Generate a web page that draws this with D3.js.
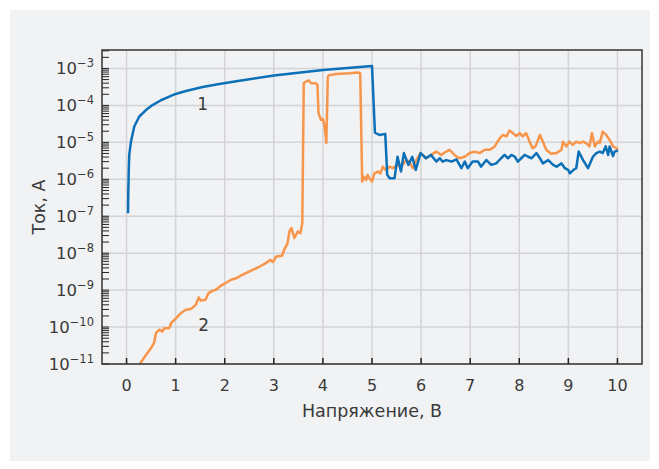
<!DOCTYPE html>
<html>
<head>
<meta charset="utf-8">
<script src="https://cdn.jsdelivr.net/npm/d3@7"></script>
<style>
  html, body { margin: 0; padding: 0; background: #ffffff; }
  svg { display: block; }
  text { font-family: "DejaVu Sans", sans-serif; fill: #3a3a3a; }
</style>
</head>
<body>
<svg id="chart" width="659" height="469"></svg>
<script>
// Voltage sweep, V
const blueVoltage = [0.03, 0.035, 0.045, 0.055, 0.09, 0.157, 0.26, 0.4, 0.53, 0.7, 0.87, 1.0, 1.21, 1.55, 1.89, 2.3, 3.0, 4.0, 5.0,
  5.06, 5.15, 5.27, 5.31, 5.36, 5.46, 5.52, 5.59, 5.65, 5.74, 5.82, 5.89, 5.99, 6.10, 6.20, 6.31, 6.38, 6.44, 6.51, 6.62,
  6.72, 6.82, 6.89, 6.95, 7.05, 7.16, 7.22, 7.33, 7.43, 7.53, 7.63, 7.70, 7.77, 7.84, 7.91, 7.97, 8.04, 8.11, 8.18, 8.25,
  8.35, 8.42, 8.48, 8.59, 8.69, 8.76, 8.86, 8.93, 9.00, 9.03, 9.10, 9.16, 9.21, 9.30, 9.40, 9.50, 9.57, 9.64, 9.70, 9.76,
  9.81, 9.84, 9.91, 9.94, 10.01];
// log10 of current, A (curve 1)
const blueLogCurrent = [-6.92, -6.4, -5.75, -5.34, -4.98, -4.57, -4.30, -4.12, -3.99, -3.86, -3.76, -3.69, -3.61, -3.50, -3.42, -3.33, -3.19, -3.04, -2.93,
  -4.74, -4.80, -4.77, -5.88, -5.97, -5.97, -5.39, -5.79, -5.29, -5.61, -5.39, -5.75, -5.29, -5.43, -5.34, -5.52, -5.43, -5.52, -5.48, -5.52,
  -5.46, -5.70, -5.52, -5.70, -5.52, -5.52, -5.66, -5.48, -5.61, -5.57, -5.43, -5.34, -5.43, -5.34, -5.39, -5.52, -5.43, -5.34, -5.39, -5.43,
  -5.29, -5.43, -5.57, -5.48, -5.61, -5.66, -5.57, -5.70, -5.75, -5.84, -5.75, -5.70, -5.25, -5.48, -5.70, -5.39, -5.29, -5.25, -5.29, -5.11,
  -5.34, -5.11, -5.37, -5.25, -5.22];

const orangeVoltage = [0.25, 0.27, 0.40, 0.50, 0.56, 0.60, 0.67, 0.73, 0.77, 0.87, 0.91, 1.01, 1.11, 1.21, 1.31, 1.41, 1.47, 1.51,
  1.61, 1.67, 1.75, 1.82, 1.92, 2.03, 2.13, 2.23, 2.33, 2.43, 2.54, 2.64, 2.74, 2.81, 2.88, 2.93, 2.98, 3.05, 3.17, 3.21,
  3.28, 3.32, 3.36, 3.42, 3.49, 3.54, 3.58, 3.61, 3.65, 3.71, 3.76, 3.86, 3.89, 3.91, 3.96, 4.00, 4.03, 4.07, 4.10, 4.13,
  4.27, 4.54, 4.73, 4.76, 4.80, 4.83, 4.88, 4.91, 4.95, 5.00, 5.05, 5.12, 5.17, 5.22, 5.28, 5.36, 5.42, 5.52, 5.59, 5.70,
  5.76, 5.83, 5.90, 5.99, 6.10, 6.20, 6.31, 6.41, 6.51, 6.58, 6.68, 6.78, 6.89, 6.99, 7.09, 7.19, 7.30, 7.40, 7.50, 7.60,
  7.67, 7.74, 7.80, 7.87, 7.94, 8.01, 8.07, 8.14, 8.21, 8.27, 8.33, 8.42, 8.48, 8.55, 8.65, 8.76, 8.86, 8.89, 8.96, 9.02,
  9.09, 9.16, 9.23, 9.30, 9.36, 9.43, 9.48, 9.54, 9.60, 9.64, 9.70, 9.77, 9.84, 9.91, 9.98, 10.01];
// log10 of current, A (curve 2)
const orangeLogCurrent = [-11.05, -11.0, -10.75, -10.57, -10.43, -10.16, -10.07, -10.12, -10.03, -10.03, -9.89, -9.76, -9.62, -9.53, -9.51, -9.40, -9.20, -9.28,
  -9.26, -9.08, -9.02, -8.99, -8.88, -8.80, -8.72, -8.68, -8.61, -8.54, -8.47, -8.41, -8.34, -8.29, -8.23, -8.18, -8.24, -8.09, -8.07, -7.91,
  -7.73, -7.40, -7.32, -7.59, -7.41, -7.46, -7.19, -3.40, -3.36, -3.32, -3.40, -3.40, -3.45, -4.21, -4.39, -4.37, -4.53, -5.02, -3.22, -3.18,
  -3.15, -3.13, -3.11, -3.13, -6.06, -5.93, -6.02, -5.88, -5.97, -6.06, -5.84, -5.79, -5.84, -5.66, -5.75, -5.66, -5.70, -5.61, -5.66, -5.48,
  -5.52, -5.70, -5.48, -5.29, -5.43, -5.34, -5.25, -5.34, -5.25, -5.20, -5.34, -5.43, -5.39, -5.29, -5.25, -5.29, -5.20, -5.20, -5.11, -4.89,
  -4.80, -4.84, -4.68, -4.75, -4.83, -4.75, -4.84, -4.75, -4.98, -5.16, -5.11, -4.80, -4.98, -5.20, -5.31, -5.29, -5.20, -4.98, -5.11, -4.98,
  -5.07, -4.98, -5.02, -4.98, -5.02, -5.11, -4.75, -5.11, -4.98, -5.02, -4.71, -4.80, -4.93, -5.11, -5.16, -5.20];

const xTicks = [0, 1, 2, 3, 4, 5, 6, 7, 8, 9, 10];
const yTickExponents = [-3, -4, -5, -6, -7, -8, -9, -10, -11];
const curveLabels = [
  { text: "1", v: 1.55, logI: -4.13 },
  { text: "2", v: 1.57, logI: -10.1 }
];
const xTitle = "Напряжение, В";
const yTitle = "Ток, А";

const svg = d3.select("#chart");
const plot = { left: 102, right: 642, top: 50, bottom: 364 };

// panel background
svg.append("rect").attr("x", 10).attr("y", 10).attr("width", 640).attr("height", 451).attr("fill", "#f1f2f4");

const x = d3.scaleLinear().domain([-0.5, 10.5]).range([plot.left, plot.right]);
const y = d3.scaleLog().domain([1e-11, Math.pow(10, -2.5)]).range([plot.bottom, plot.top]);

// grid
const grid = svg.append("g");
grid.selectAll("line.v").data(xTicks).join("line")
  .attr("x1", d => x(d)).attr("x2", d => x(d))
  .attr("y1", plot.top).attr("y2", plot.bottom)
  .attr("stroke", "#d3d4d6").attr("stroke-width", 1.5);
grid.selectAll("line.h").data(yTickExponents).join("line")
  .attr("x1", plot.left).attr("x2", plot.right)
  .attr("y1", d => y(Math.pow(10, d))).attr("y2", d => y(Math.pow(10, d)))
  .attr("stroke", "#d3d4d6").attr("stroke-width", 1.5);

// minor and major ticks on the left edge, pointing inward
const logTicks = [];
for (let e = -11; e <= -3; e++) {
  for (let m = 1; m <= 9; m++) {
    const val = m * Math.pow(10, e);
    if (val <= Math.pow(10, -2.5)) logTicks.push(val);
  }
}
svg.append("g").selectAll("line").data(logTicks).join("line")
  .attr("x1", plot.left).attr("x2", plot.left + 7)
  .attr("y1", d => y(d)).attr("y2", d => y(d))
  .attr("stroke", "#222").attr("stroke-width", 1);

// bottom ticks pointing inward
svg.append("g").selectAll("line").data(xTicks).join("line")
  .attr("x1", d => x(d)).attr("x2", d => x(d))
  .attr("y1", plot.bottom).attr("y2", plot.bottom - 6)
  .attr("stroke", "#222").attr("stroke-width", 1.5);

// curves
svg.append("clipPath").attr("id", "clip").append("rect")
  .attr("x", plot.left).attr("y", plot.top)
  .attr("width", plot.right - plot.left).attr("height", plot.bottom - plot.top);

const line = d3.line().x(d => x(d[0])).y(d => y(Math.pow(10, d[1])));
const orangeData = orangeVoltage.map((v, i) => [v, orangeLogCurrent[i]]);
const blueData = blueVoltage.map((v, i) => [v, blueLogCurrent[i]]);

const curves = svg.append("g").attr("clip-path", "url(#clip)");
curves.append("path").datum(orangeData).attr("d", line)
  .attr("fill", "none").attr("stroke", "#f7954a").attr("stroke-width", 2.5).attr("stroke-linejoin", "round");
curves.append("path").datum(blueData).attr("d", line)
  .attr("fill", "none").attr("stroke", "#0b70b7").attr("stroke-width", 2.5).attr("stroke-linejoin", "round");

// frame
svg.append("rect")
  .attr("x", plot.left).attr("y", plot.top)
  .attr("width", plot.right - plot.left).attr("height", plot.bottom - plot.top)
  .attr("fill", "none").attr("stroke", "#333").attr("stroke-width", 1.5);

// x tick labels
svg.append("g").selectAll("text").data(xTicks).join("text")
  .attr("x", d => x(d)).attr("y", 391)
  .attr("text-anchor", "middle").attr("font-size", 16)
  .text(d => d);

// y tick labels as powers of ten
const yl = svg.append("g").selectAll("text").data(yTickExponents).join("text")
  .attr("x", 94).attr("y", d => y(Math.pow(10, d)) + 6)
  .attr("text-anchor", "end").attr("font-size", 16.5);
yl.append("tspan").text("10");
yl.append("tspan").attr("dy", -7).attr("font-size", 11.5).text(d => "\u2212" + Math.abs(d));

// axis titles
svg.append("text").attr("x", (plot.left + plot.right) / 2).attr("y", 417)
  .attr("text-anchor", "middle").attr("font-size", 17.5).text(xTitle);
svg.append("text").attr("transform", "translate(45," + ((plot.top + plot.bottom) / 2) + ") rotate(-90)")
  .attr("text-anchor", "middle").attr("font-size", 17.5).text(yTitle);

// curve numbers
svg.append("g").selectAll("text").data(curveLabels).join("text")
  .attr("x", d => x(d.v)).attr("y", d => y(Math.pow(10, d.logI)))
  .attr("text-anchor", "middle").attr("font-size", 17).attr("fill", "#222")
  .text(d => d.text);
</script>
</body>
</html>
